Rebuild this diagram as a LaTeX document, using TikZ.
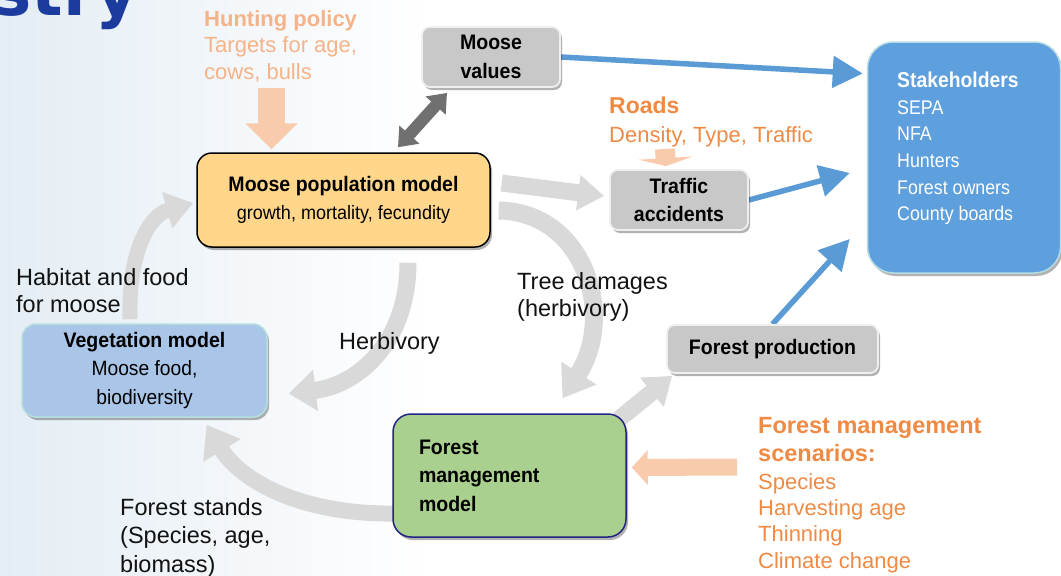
\documentclass[tikz,border=0pt]{standalone}
\usepackage{fontspec}
\setmainfont{Liberation Sans}
\newfontfamily\titlefont{DejaVu Sans}
\newfontfamily\boxfont[FakeStretch=0.93]{Liberation Sans}
\newfontfamily\shfont[FakeStretch=0.9]{Liberation Sans}
\usetikzlibrary{arrows.meta,shadows,calc}
\newcommand{\myfs}[2]{\fontsize{#1}{#2}\selectfont}
\definecolor{popfill}{HTML}{FFD68A}
\definecolor{grayfill}{HTML}{C8C8C8}
\definecolor{grayedge}{HTML}{EFEFEF}
\definecolor{shfill}{HTML}{5E9FDD}
\definecolor{shedge}{HTML}{B5DCE3}
\definecolor{vegfill}{HTML}{A9C6E8}
\definecolor{vegedge}{HTML}{B5DEDD}
\definecolor{fmfill}{HTML}{A9D08E}
\definecolor{fmedge}{HTML}{232383}
\definecolor{blueline}{HTML}{5B9BD5}
\definecolor{flowgray}{HTML}{D9D9D9}
\definecolor{darkflow}{HTML}{707070}
\definecolor{peach}{HTML}{F8CBAD}
\definecolor{huntorange}{HTML}{F5B38A}
\definecolor{orangetext}{HTML}{EF8A44}
\definecolor{titleblue}{HTML}{1B3C9E}
\definecolor{bgblue}{HTML}{E4EDF4}
\pgfdeclarelayer{back}
\pgfdeclarelayer{bg}
\pgfsetlayers{back,bg,main}
\begin{document}
\begin{tikzpicture}[x=1pt,y=-1pt,
  shadowed/.style={drop shadow={shadow xshift=2pt,shadow yshift=-3pt,opacity=0.3,fill=black}},
  graybox/.style={shadowed,fill=grayfill,draw=grayedge,line width=1.8pt,rounded corners=8pt,
     font=\boxfont\myfs{21}{28.5}\bfseries,align=center,inner sep=0pt},
  modelbox/.style={shadowed,font=\boxfont\myfs{21}{28.5}\bfseries,inner sep=0pt},
  flow/.style={draw=flowgray,line width=17pt},
  bluearrow/.style={draw=blueline,line width=5.5pt,-{Triangle[width=31pt,length=30pt]}},
  lbl/.style={anchor=north west,inner sep=0pt,align=left,text=black!93},
]
\useasboundingbox (0,0) rectangle (1061,576);
\begin{pgfonlayer}{back}
\fill[left color=bgblue,right color=white] (0,0) rectangle (430,576);
\end{pgfonlayer}

% title fragment
\node[anchor=base east,inner sep=0pt,text=titleblue,font=\titlefont\bfseries\myfs{66}{66}] (title) at (139,15) {stry};

% boxes
\node[modelbox,fill=popfill,draw=black,line width=1.5pt,rounded corners=15pt,
  minimum width=293pt,minimum height=94pt,align=center] (pop) at (343.5,200)
  {Moose population model\\\mdseries\myfs{19.4}{28.5}growth, mortality, fecundity};
\node[graybox,minimum width=138pt,minimum height=60pt] (mv) at (491,57) {Moose\\values};
\node[graybox,minimum width=138pt,minimum height=60pt] (ta) at (679,200) {Traffic\\accidents};
\node[graybox,minimum width=211pt,minimum height=48pt] (fp) at (772.5,349) {Forest production};
\node[shadowed,fill=shfill,draw=shedge,line width=1.5pt,rounded corners=26pt,
  minimum width=193pt,minimum height=231pt] (sh) at (964,157.5) {};
\node[anchor=north west,inner sep=0pt,align=left,text=white,font=\shfont\myfs{19.8}{26.6}] (shtext) at (897,72)
  {\bfseries\myfs{21.5}{26.6}Stakeholders\\SEPA\\NFA\\Hunters\\Forest owners\\County boards};
\node[modelbox,fill=vegfill,draw=vegedge,line width=1.5pt,rounded corners=14pt,
  minimum width=245pt,minimum height=93pt,align=center] (veg) at (144.5,370.5)
  {Vegetation model\\\mdseries\myfs{20.7}{28.5}Moose food,\\\mdseries\myfs{20.7}{28.5}biodiversity};
\node[modelbox,fill=fmfill,draw=fmedge,line width=1.5pt,rounded corners=18pt,
  minimum width=233pt,minimum height=123pt,text width=181pt,inner xsep=26pt,align=left] (fm) at (509.5,475.5)
  {Forest\\management\\model};

% labels
\node[lbl,text=huntorange,font=\myfs{22}{26.5}] (hunt) at (204,10)
  {\bfseries Hunting policy\\Targets for age,\\cows, bulls};
\node[lbl,text=orangetext,font=\myfs{22}{28.3}] (roads) at (609,97)
  {\bfseries\myfs{23}{28.3}Roads\\Density, Type, Traffic};
\node[lbl,font=\myfs{23.5}{27}] (habitat) at (16,268) {Habitat and food\\for moose};
\node[lbl,font=\myfs{23.5}{27}] (tree) at (517,272) {Tree damages\\(herbivory)};
\node[lbl,font=\myfs{23.5}{27}] (herb) at (339,332) {Herbivory};
\node[lbl,font=\myfs{23.5}{28.5}] (stands) at (120,498) {Forest stands\\(Species, age,\\biomass)};
\node[lbl,text=orangetext,font=\myfs{22}{26.4}] (scen) at (758,417)
  {\bfseries\myfs{23.5}{26.4}Forest management\\[1.5pt]\bfseries\myfs{23.5}{26.4}scenarios:\\[1.5pt]Species\\Harvesting age\\Thinning\\Climate change};

% free ends of input arrows
\coordinate (huntstart) at (271.5,88);
\coordinate (roadstart) at (665,149);
\coordinate (scenstart) at (737,467);

\begin{pgfonlayer}{bg}
% peach input arrows
\draw[draw=peach,line width=27pt,-{Triangle[width=51pt,length=26pt]}]
  (huntstart) -- ([xshift=-72pt,yshift=3pt]pop.north);
\draw[draw=peach,line width=20pt,-{Triangle[width=54pt,length=8pt]}]
  (roadstart) -- ([xshift=-13pt,yshift=3pt]ta.north);
\draw[draw=peach,line width=17pt,-{Triangle[width=34pt,length=16pt]}]
  (scenstart) -- ([xshift=5pt,yshift=8pt]fm.east);
% dark double arrow
\draw[draw=darkflow,line width=12pt,{Triangle[width=26pt,length=17pt]}-{Triangle[width=26pt,length=17pt]}]
  ([xshift=54.5pt,yshift=5pt]pop.north) -- ([xshift=-44pt,yshift=-5pt]mv.south);
% blue arrows
\draw[bluearrow] (mv.east) -- ([xshift=-4pt,yshift=84pt]sh.west);
\draw[bluearrow] (ta.east) -- ([xshift=-17pt,yshift=-15.5pt]sh.west);
\draw[bluearrow] (fp.north) -- ([xshift=-17pt,yshift=-81.5pt]sh.west);
% gray straight arrows
\draw[flow,-{Triangle[width=34pt,length=26pt]}]
  ([xshift=11pt,yshift=17pt]pop.east) -- ([xshift=-5pt,yshift=4pt]ta.west);
\draw[flow,-{Triangle[width=36pt,length=26pt]}]
  ([xshift=-8pt,yshift=-6pt]fm.north east) -- ([xshift=6pt,yshift=-2pt]fp.south west);
% gray curved arrows
\draw[flow,line width=18pt,-{Triangle[width=40pt,length=30pt]}]
  ([xshift=8pt,yshift=-10.5pt]pop.east) .. controls (585,212) and (616,316) .. ([xshift=53pt,yshift=15pt]fm.north);
\draw[flow,-{Triangle[width=40pt,length=27pt]}]
  ([xshift=64.5pt,yshift=-15pt]pop.south) .. controls (408,340) and (360,385) .. ([xshift=21pt,yshift=-23pt]veg.east);
\draw[flow,line width=15pt,-{Triangle[width=36pt,length=27pt]}]
  ([xshift=-14.5pt,yshift=4pt]veg.north) .. controls (128,250) and (150,215) .. ([xshift=-3pt,yshift=-3pt]pop.west);
\draw[flow,line width=16pt,-{Triangle[width=42pt,length=30pt]}]
  ([xshift=4pt,yshift=-38pt]fm.west) .. controls (300,515) and (240,480) .. ([xshift=62pt,yshift=-7pt]veg.south);
\end{pgfonlayer}
\end{tikzpicture}
\end{document}
